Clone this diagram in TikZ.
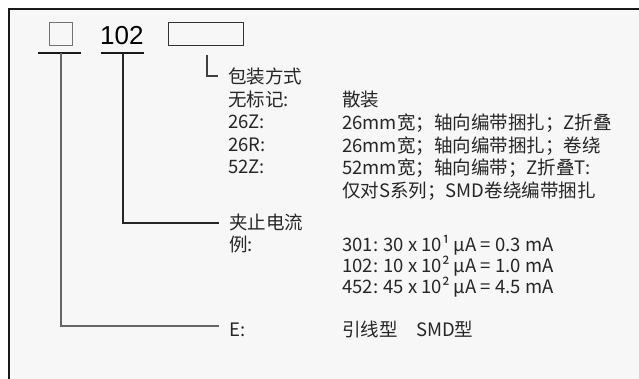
\documentclass[tikz,border=0pt]{standalone}
\usepackage{fontspec}
\setmainfont{Noto Sans CJK SC}
\newfontfamily\numfont{Liberation Sans}
\begin{document}
\begin{tikzpicture}[x=1pt,y=-1pt,
  txt/.style={anchor=base west,inner sep=0pt,text=black!85,font=\fontsize{18.5}{22}\selectfont},
  conn/.style={draw=black!60,line width=1.2pt},
  uline/.style={draw=black!90,line width=2pt},
  frame/.style={draw=black!90,line width=1.2pt}]
\useasboundingbox (0,0) rectangle (639,379);
\fill[white] (0,0) rectangle (639,379);
\fill[black!3!white] (9,9) rectangle (639,379);
\draw[frame] (639,9) -- (9,9) -- (9,379);
% header boxes
\node[draw=black!55,line width=1pt,minimum width=23pt,minimum height=23pt,inner sep=0pt] (sq) at (60.5,34.5) {};
\node[anchor=base west,inner sep=0pt,text=black,font=\numfont\fontsize{26}{28}\selectfont] (num) at (100,45) {102};
\node[draw=black!80,line width=1pt,minimum width=75pt,minimum height=23pt,inner sep=0pt] (pk) at (205.5,34.5) {};
% underlines
\coordinate (u1a) at (38,53); \coordinate (u1b) at (81,53);
\coordinate (u2a) at (101,53); \coordinate (u2b) at (144,53);
\draw[uline] (u1a) -- (u1b);
\draw[uline] (u2a) -- (u2b);
\coordinate (u1) at (61,53);
\coordinate (u2) at (123,53);
\coordinate (u3) at (207,55);
\coordinate (e1) at (219,326);
\coordinate (e2) at (219,223);
\coordinate (e3) at (218,76);
\draw[conn] (u1) |- (e1);
\draw[conn,draw=black!85] (u2) |- (e2);
\draw[conn,draw=black!75] (u3) |- (e3);
% packing
\node[txt] (pa) at (228,83.5) {包装方式};
\node[txt] (p1) at (228,106.5) {无标记:};
\node[txt] (p2) at (228,129) {26Z:};
\node[txt] (p3) at (228,151.5) {26R:};
\node[txt] (p4) at (228,174) {52Z:};
\node[txt] (q1) at (342,107) {散装};
\node[txt] (q2) at (342,130) {26mm宽；轴向编带捆扎；Z折叠};
\node[txt] (q3) at (342,152.5) {26mm宽；轴向编带捆扎；卷绕};
\node[txt] (q4) at (342,175) {52mm宽；轴向编带；Z折叠T:};
\node[txt] (q5) at (342,197.5) {仅对S系列；SMD卷绕编带捆扎};
% current
\node[txt] (ca) at (229,229.5) {夹止电流};
\node[txt] (c1) at (229,251.5) {例:};
\node[txt] (d1) at (342,251.5) {301: 30 x 10¹ μA = 0.3 mA};
\node[txt] (d2) at (342,272.5) {102: 10 x 10² μA = 1.0 mA};
\node[txt] (d3) at (342,293.5) {452: 45 x 10² μA = 4.5 mA};
% E
\node[txt] (ea) at (229,336.5) {E:};
\node[txt] (eb) at (342,336.5) {引线型　SMD型};
\end{tikzpicture}
\end{document}
